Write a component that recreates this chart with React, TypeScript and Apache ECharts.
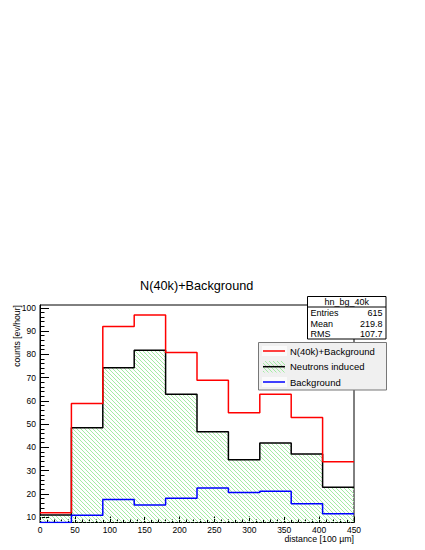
import React, { useEffect, useRef } from 'react';
import * as echarts from 'echarts';

// ---- data ----
const binEdges = [0, 45, 90, 135, 180, 225, 270, 315, 360, 405, 450];
const totalCounts = [11.9, 58.9, 92.0, 96.9, 80.8, 68.8, 54.9, 62.8, 52.8, 33.8];
const neutronCounts = [10.9, 48.4, 74.2, 81.8, 62.8, 46.7, 34.7, 41.9, 37.2, 22.9];
const backgroundCounts = [1.0, 10.8, 17.6, 15.2, 18.1, 22.5, 20.6, 21.1, 15.8, 11.5];
const yTickValues = [10, 20, 30, 40, 50, 60, 70, 80, 90, 100];
const yMinorValues = [8, 12, 14, 16, 18, 22, 24, 26, 28, 32, 34, 36, 38, 42, 44, 46, 48, 52, 54, 56, 58, 62, 64, 66, 68, 72, 74, 76, 78, 82, 84, 86, 88, 92, 94, 96, 98];
const statsName = 'hn_bg_40k';
const statsLabels = ['Entries', 'Mean', 'RMS'];
const statsValues = ['615', '219.8', '107.7'];
const legendNames = ['N(40k)+Background', 'Neutrons induced', 'Background'];
const chartTitle = 'N(40k)+Background';
const xTitle = 'distance [100 µm]';
const yTitle = 'counts [ev/hour]';

const FONT = '"Liberation Sans", Arial, Helvetica, sans-serif';

export default function App() {
  const ref = useRef<HTMLDivElement>(null);

  useEffect(() => {
    const el = ref.current;
    if (!el) return;
    const chart = echarts.init(el, null, { renderer: 'svg' });

    const yMin = 7.7;
    const yMax = 101.2;

    const stepData = (vals: number[]) => {
      const pts: number[][] = [];
      vals.forEach((v, i) => {
        const y = Math.max(v, yMin);
        pts.push([binEdges[i], y], [binEdges[i + 1], y]);
      });
      return pts;
    };

    const cv = document.createElement('canvas');
    cv.width = 4;
    cv.height = 4;
    const ctx = cv.getContext('2d');
    if (ctx) {
      ctx.fillStyle = '#a4eca4';
      for (let i = 0; i < 4; i++) ctx.fillRect(i, i, 1, 1);
    }
    const hatch: any = { image: cv, repeat: 'repeat', imageWidth: 4, imageHeight: 4 };

    const txt = (text: string, x: number, y: number, align: string, size: number, extra: any = {}) => ({
      type: 'text',
      x,
      y,
      silent: true,
      style: { text, fill: '#000', font: `${size}px ${FONT}`, align, verticalAlign: 'middle', ...extra },
      z: 110,
    });

    const graphics: any[] = [
      // stats box
      { type: 'rect', shape: { x: 307.5, y: 296.5, width: 78.5, height: 42.5 }, style: { fill: '#fff', stroke: '#000', lineWidth: 1 }, z: 100, silent: true },
      { type: 'line', shape: { x1: 307.5, y1: 307, x2: 386, y2: 307 }, style: { stroke: '#000', lineWidth: 1 }, z: 101, silent: true },
      txt(statsName, 346.7, 301.8, 'center', 9),
      ...statsLabels.map((l, i) => txt(l, 310.5, 313.3 + i * 10.4, 'left', 9)),
      ...statsValues.map((v, i) => txt(v, 382.5, 313.3 + i * 10.4, 'right', 9)),
      // legend box
      { type: 'rect', shape: { x: 258.5, y: 342.5, width: 128, height: 47.5 }, style: { fill: '#f0f0f0', stroke: '#777', lineWidth: 1 }, z: 100, silent: true },
      { type: 'rect', shape: { x: 262, y: 346, width: 25, height: 10 }, style: { fill: '#fafafa' }, z: 101, silent: true },
      { type: 'line', shape: { x1: 263, y1: 351, x2: 285, y2: 351 }, style: { stroke: '#ff0000', lineWidth: 1.5 }, z: 102, silent: true },
      { type: 'rect', shape: { x: 263, y: 361, width: 22, height: 11.5 }, style: { fill: hatch }, z: 101, silent: true },
      { type: 'line', shape: { x1: 263, y1: 366.7, x2: 285, y2: 366.7 }, style: { stroke: '#000', lineWidth: 1.5 }, z: 102, silent: true },
      { type: 'rect', shape: { x: 262, y: 377, width: 25, height: 10 }, style: { fill: '#fafafa' }, z: 101, silent: true },
      { type: 'line', shape: { x1: 263, y1: 382, x2: 285, y2: 382 }, style: { stroke: '#0000ff', lineWidth: 1.5 }, z: 102, silent: true },
      ...legendNames.map((n, i) => txt(n, 290, 351.2 + i * 15.5, 'left', 9.5)),
    ];

    const axisText = { fontSize: 8.5, color: '#000', fontFamily: FONT };

    chart.setOption({
      animation: false,
      backgroundColor: '#fff',
      title: {
        text: chartTitle,
        left: 196.7,
        top: 279.5,
        textAlign: 'center',
        padding: 0,
        textStyle: { fontSize: 12.7, fontWeight: 'normal', color: '#000', fontFamily: FONT },
      },
      grid: {
        left: 40,
        right: 71,
        top: 305,
        bottom: 27.5,
        show: true,
        borderColor: '#000',
        borderWidth: 1,
        backgroundColor: 'transparent',
        containLabel: false,
      },
      xAxis: {
        type: 'value',
        min: 0,
        max: 450,
        interval: 50,
        name: xTitle,
        nameLocation: 'end',
        nameGap: 0,
        nameMoveOverlap: false,
        nameTextStyle: { ...axisText, fontSize: 8.8, lineHeight: 9, align: 'right', verticalAlign: 'top', padding: [11.5, 0, 0, 0] },
        axisLine: { show: true, lineStyle: { color: '#000', width: 1 } },
        axisTick: { show: true, inside: true, length: 6, lineStyle: { color: '#000', width: 1 } },
        minorTick: { show: true, splitNumber: 5, length: 3, lineStyle: { color: '#000', width: 1 } },
        axisLabel: { ...axisText, lineHeight: 9, margin: 2.5 },
        splitLine: { show: false },
        minorSplitLine: { show: false },
      },
      yAxis: [
        {
          type: 'value',
          min: yMin,
          max: yMax,
          position: 'left',
          offset: 0,
          name: yTitle,
          nameLocation: 'end',
          nameGap: 0,
          nameRotate: 90,
          nameMoveOverlap: false,
          nameTextStyle: { ...axisText, fontSize: 8.7, align: 'right', verticalAlign: 'bottom', padding: [0, 0, 19, 0] },
          axisLine: { show: true, lineStyle: { color: '#000', width: 1 } },
          axisTick: { show: true, inside: true, length: 9, customValues: yTickValues, lineStyle: { color: '#000', width: 1 } },
          axisLabel: { ...axisText, margin: 4, customValues: yTickValues },
          splitLine: { show: false },
        },
        {
          type: 'value',
          min: yMin,
          max: yMax,
          position: 'left',
          offset: 0,
          axisLine: { show: false },
          axisTick: { show: true, inside: true, length: 4.5, customValues: yMinorValues, lineStyle: { color: '#000', width: 1 } },
          axisLabel: { show: false },
          splitLine: { show: false },
        },
      ],
      series: [
        {
          name: legendNames[1],
          type: 'line',
          data: stepData(neutronCounts),
          symbol: 'none',
          silent: true,
          lineStyle: { color: '#000', width: 1.5 },
          itemStyle: { color: '#000' },
          areaStyle: { color: hatch, opacity: 1, origin: 'start' },
          z: 2,
        },
        {
          name: legendNames[0],
          type: 'line',
          data: stepData(totalCounts),
          symbol: 'none',
          silent: true,
          lineStyle: { color: '#ff0000', width: 1.5 },
          itemStyle: { color: '#ff0000' },
          z: 3,
        },
        {
          name: legendNames[2],
          type: 'line',
          data: stepData(backgroundCounts),
          symbol: 'none',
          silent: true,
          lineStyle: { color: '#0000ff', width: 1.5 },
          itemStyle: { color: '#0000ff' },
          z: 4,
        },
      ],
      graphic: graphics,
    });

    return () => {
      chart.dispose();
    };
  }, []);

  return (
    <div
      ref={ref}
      style={{ position: 'fixed', left: 0, top: 0, width: 425, height: 550, background: '#fff' }}
    />
  );
}
